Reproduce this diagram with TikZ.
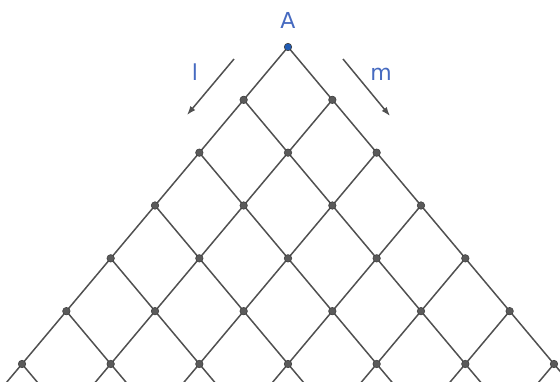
\documentclass[tikz,border=0pt]{standalone}
\usepackage{fontspec}
\setsansfont{DejaVu Sans}
\usetikzlibrary{positioning, calc, arrows.meta, backgrounds}

\definecolor{ptblue}{RGB}{33,92,180}
\definecolor{lblblue}{RGB}{70,106,192}
\definecolor{gridgray}{RGB}{80,80,80}
\definecolor{dotgray}{RGB}{90,90,90}

\begin{document}
\begin{tikzpicture}[x=1pt, y=-1pt,
    dot/.style={circle, fill=dotgray, draw=black!75, line width=0.6pt, inner sep=0pt, minimum size=7.5pt},
    gridline/.style={gridgray, line width=1.5pt},
    dirarrow/.style={gridgray, line width=1.5pt, -{Latex[length=9pt, width=6.5pt]}},
    lbl/.style={text=lblblue, inner sep=0pt, font=\sffamily\fontsize{22}{25}\selectfont}]
        \useasboundingbox (0,0) rectangle (560,381);

        % apex and its label
        \node[dot, fill=ptblue] (p-0-0) at (288,47) {};
        \node[lbl, anchor=base] (lblA) at (288,28) {A};

        % lattice points
        \foreach \r in {1,...,6}
          \foreach \k in {0,...,\r}
            \node[dot] (p-\r-\k) at ({288+(2*\k-\r)*44.33}, {47+\r*52.83}) {};

        % where the lines leave the page
        \foreach \k in {0,...,6} {
          \coordinate (bl-\k) at ($(p-6-\k)+(-16,19)$);
          \coordinate (br-\k) at ($(p-6-\k)+(16,19)$);
        }

        % grid lines
        \begin{scope}[on background layer]
          \clip (0,0) rectangle (560,381);
          \foreach \k in {0,...,6}
            \draw[gridline] (p-\k-\k.center) -- (p-6-\k.center) -- (bl-\k);
          \foreach \j in {0,...,6} {
            \pgfmathtruncatemacro\e{6-\j}
            \draw[gridline] (p-\j-0.center) -- (p-6-\e.center) -- (br-\e);
          }
        \end{scope}

        % directions l and m
        \coordinate (l-start) at (234,59);
        \coordinate (l-end) at (187,115);
        \coordinate (m-start) at (343,59);
        \coordinate (m-end) at (390,116);
        \draw[dirarrow] (l-start) -- (l-end);
        \draw[dirarrow] (m-start) -- (m-end);
        \node[lbl, anchor=base] (lblL) at (195,80) {l};
        \node[lbl, anchor=base] (lblM) at (381,80) {m};
      \end{tikzpicture}
\end{document}
